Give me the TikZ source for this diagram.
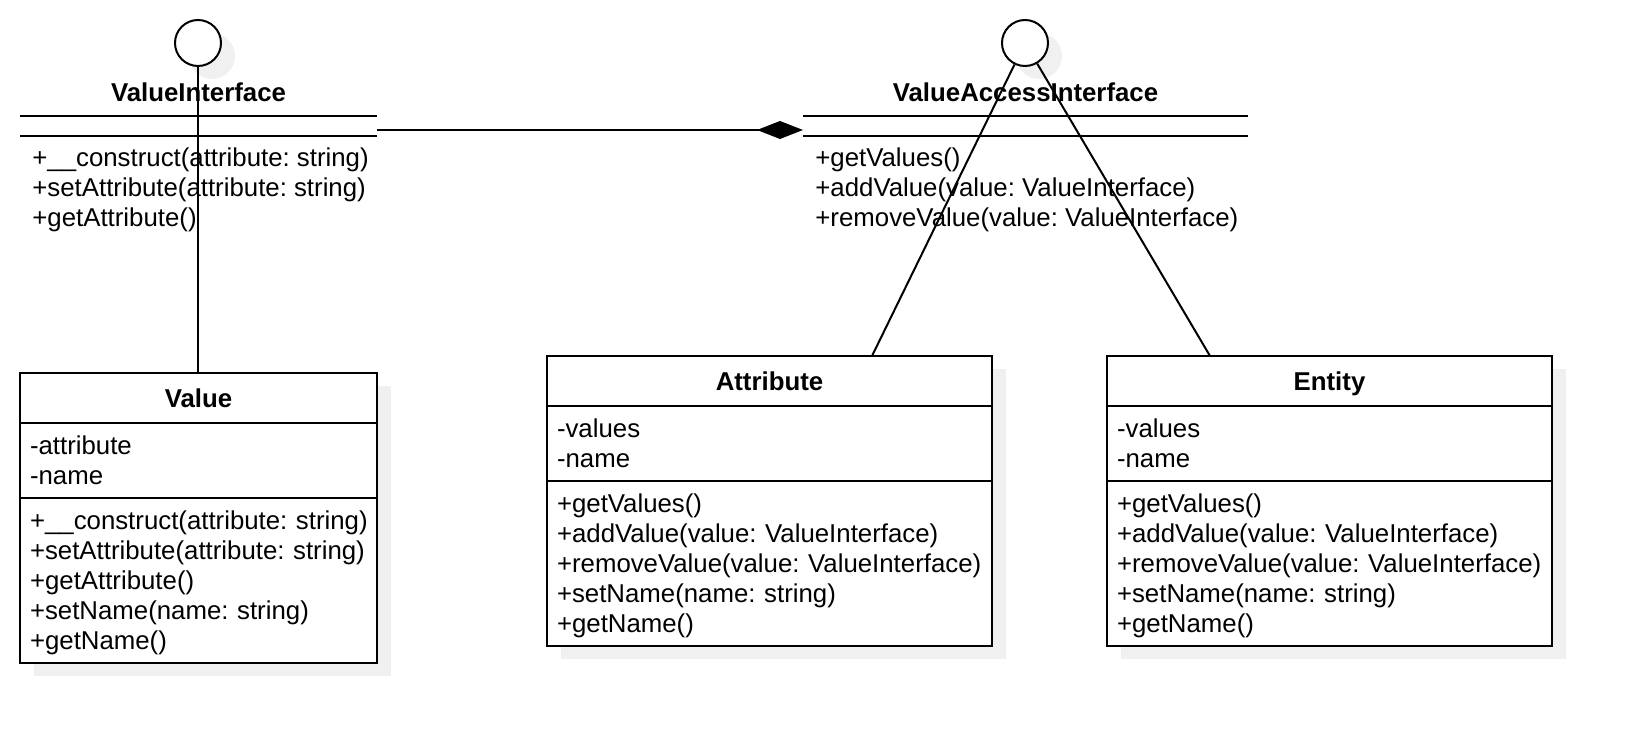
\documentclass[tikz,border=0pt]{standalone}
\usepackage{fontspec}
\setmainfont{Liberation Sans}
\usetikzlibrary{positioning,arrows.meta,shadows}
\frenchspacing
\hyphenpenalty=10000
\exhyphenpenalty=10000

\newcommand{\umltext}{\fontsize{12.9pt}{15pt}\selectfont}
\newcommand{\umlbold}{\bfseries\fontsize{12.9pt}{15pt}\selectfont}
\newcommand{\topstrut}{\rule{0pt}{13.5pt}}

\tikzset{
  umlshadow/.style={drop shadow={shadow xshift=7pt, shadow yshift=-6.5pt, fill=gray!12, opacity=1}},
  umlbox/.style={draw, fill=white, line width=1pt, outer sep=0pt, umlshadow},
  classname/.style={umlbox, font=\umlbold, minimum height=25pt, text height=9.2pt, text depth=0pt},
  classbody/.style={umlbox, font=\umltext, inner xsep=5pt, inner ysep=0pt, align=left},
  ifacename/.style={font=\umlbold, text height=9.2pt, text depth=0pt, inner sep=0pt},
  ifacebar/.style={minimum height=10pt, inner sep=0pt, outer sep=0pt},
  ifacebody/.style={font=\umltext, align=left, inner xsep=6pt, inner ysep=4.5pt},
  lolly/.style={circle, draw, fill=white, line width=1pt, minimum size=23pt, inner sep=0pt, umlshadow},
  conn/.style={line width=1pt}
}

\begin{document}
\begin{tikzpicture}[x=0.5pt, y=-0.5pt]
  \useasboundingbox (0,0) rectangle (1632,742);
  % Interface ValueInterface
  \node[lolly] (vicirc) at (198,43) {};
  \node[ifacename] (vititle) at (198.5,92) {ValueInterface};
  \node[ifacebar, minimum width=178.5pt] (vibar) at (198.5,126) {};
  \node[ifacebody, below right=0pt and 0pt of vibar.south west] (vimeth)
    {\strut+\_\_construct(attribute:~string)\\+setAttribute(attribute:~string)\\+getAttribute()\strut};
  \draw[conn] (vibar.north west) -- (vibar.north east) (vibar.south west) -- (vibar.south east);
  % Interface ValueAccessInterface
  \node[lolly] (vaicirc) at (1025,43) {};
  \node[ifacename] (vaititle) at (1025.5,92) {ValueAccessInterface};
  \node[ifacebar, minimum width=222.5pt] (vaibar) at (1025.5,126) {};
  \node[ifacebody, below right=0pt and 0pt of vaibar.south west] (vaimeth)
    {\strut+getValues()\\+addValue(value:~ValueInterface)\\+removeValue(value:~ValueInterface)\strut};
  \draw[conn] (vaibar.north west) -- (vaibar.north east) (vaibar.south west) -- (vaibar.south east);
  % Class Value
  \node[classname, minimum width=178.5pt, anchor=north west] (valtitle) at (20,373) {Value};
  \node[classbody, text width=168.5pt, minimum height=37.5pt, below=0pt of valtitle] (valattr)
    {\topstrut-attribute\\-name\strut};
  \node[classbody, text width=168.5pt, minimum height=82.5pt, below=0pt of valattr] (valmeth)
    {\topstrut+\_\_construct(attribute:~string)\\+setAttribute(attribute:~string)\\+getAttribute()\\+setName(name:~string)\\+getName()\strut};
  % Class Attribute
  \node[classname, minimum width=222.5pt, anchor=north west] (attrtitle) at (547,356) {Attribute};
  \node[classbody, text width=212.5pt, minimum height=37.5pt, below=0pt of attrtitle] (attrattr)
    {\topstrut-values\\-name\strut};
  \node[classbody, text width=212.5pt, minimum height=82.5pt, below=0pt of attrattr] (attrmeth)
    {\topstrut+getValues()\\+addValue(value:~ValueInterface)\\+removeValue(value:~ValueInterface)\\+setName(name:~string)\\+getName()\strut};
  % Class Entity
  \node[classname, minimum width=222.5pt, right=57.5pt of attrtitle] (enttitle) {Entity};
  \node[classbody, text width=212.5pt, minimum height=37.5pt, below=0pt of enttitle] (entattr)
    {\topstrut-values\\-name\strut};
  \node[classbody, text width=212.5pt, minimum height=82.5pt, below=0pt of entattr] (entmeth)
    {\topstrut+getValues()\\+addValue(value:~ValueInterface)\\+removeValue(value:~ValueInterface)\\+setName(name:~string)\\+getName()\strut};
  % Realisations and composition
  \draw[conn] (vicirc) -- (vicirc |- valtitle.north);
  \draw[conn, -{Diamond[length=23pt, width=9pt]}] ([yshift=-2pt]vibar.east) -- ([yshift=-2pt]vaibar.west);
  \draw[conn] (vaicirc) -- ([xshift=51.25pt]attrtitle.north);
  \draw[conn] (vaicirc) -- ([xshift=-59.75pt]enttitle.north);
\end{tikzpicture}
\end{document}
